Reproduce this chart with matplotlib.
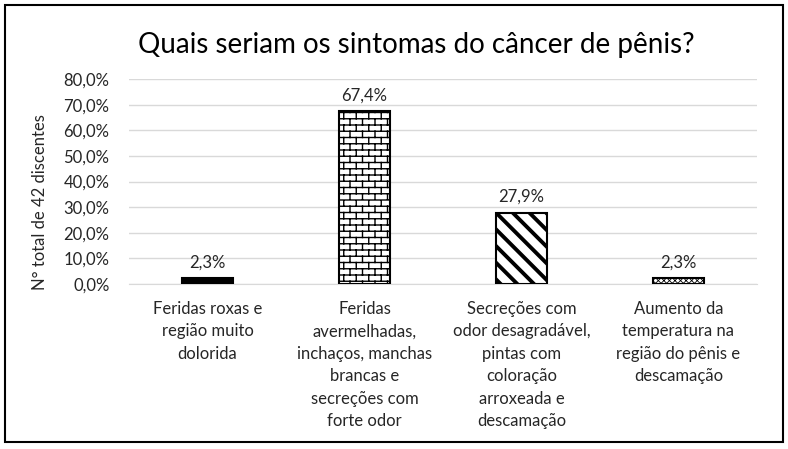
import numpy as np
import matplotlib
matplotlib.use('Agg')
import matplotlib.pyplot as plt
import matplotlib.hatch as mhatch
from matplotlib.patches import Rectangle
from matplotlib.path import Path
import warnings

warnings.filterwarnings('ignore')

# dados
categorias = ['Feridas roxas e\nregião muito\ndolorida',
              'Feridas\navermelhadas,\ninchaços, manchas\nbrancas e\nsecreções com\nforte odor',
              'Secreções com\nodor desagradável,\npintas com\ncoloração\narroxeada e\ndescamação',
              'Aumento da\ntemperatura na\nregião do pênis e\ndescamação']
valores = [2.3, 67.4, 27.9, 2.3]
rotulos = ['2,3%', '67,4%', '27,9%', '2,3%']
yticks = [0, 10, 20, 30, 40, 50, 60, 70, 80]


# padrão de tijolos (não existe no matplotlib)
class Tijolos(mhatch.HatchPatternBase):
    def __init__(self, hatch, density):
        self.n = 16 if 'b' in hatch else 0
        self.m = 8
        self.num_vertices = 2 * (self.n + 1) + 2 * self.n * self.m if self.n else 0

    def set_vertices_and_codes(self, vertices, codes):
        n, m = self.n, self.m
        k = 0
        for i in range(n + 1):
            vertices[k] = (0, i / n); vertices[k + 1] = (1, i / n)
            codes[k] = Path.MOVETO; codes[k + 1] = Path.LINETO
            k += 2
        for i in range(n):
            off = 0.5 * (i % 2)
            for j in range(m):
                x = (j + off) / m
                vertices[k] = (x, i / n); vertices[k + 1] = (x, (i + 1) / n)
                codes[k] = Path.MOVETO; codes[k + 1] = Path.LINETO
                k += 2

mhatch._hatch_types.append(Tijolos)

plt.rcParams['font.family'] = ['Lato', 'DejaVu Sans']

fig = plt.figure(figsize=(7.88, 4.49), dpi=100)
ax = fig.add_axes([129 / 788, 1 - 284 / 449, 628 / 788, 205 / 449])

estilos = [dict(color='black', hatch=None, hlw=1.0),
           dict(color='white', hatch='b', hlw=1.0),
           dict(color='white', hatch='\\\\', hlw=2.8),
           dict(color='white', hatch='xxxxxx', hlw=0.6)]

x = np.arange(len(valores))
for i, (v, e) in enumerate(zip(valores, estilos)):
    with plt.rc_context({'hatch.linewidth': e['hlw']}):
        b = ax.bar(x[i], v, width=0.33, color=e['color'], edgecolor='black',
                   linewidth=1.5, hatch=e['hatch'], zorder=3)
    for p in b:
        if hasattr(p, 'set_hatch_linewidth'):
            p.set_hatch_linewidth(e['hlw'])
    ax.text(x[i], v + 3.0, rotulos[i], ha='center', va='bottom', fontsize=12, color='#262626')

ax.set_xlim(-0.5, 3.5)
ax.set_ylim(0, 80)
ax.set_yticks(yticks)
ax.yaxis.set_major_formatter(plt.FuncFormatter(lambda v, p: ('%.1f%%' % v).replace('.', ',')))
ax.set_xticks(x)
ax.set_xticklabels(categorias, fontsize=12, color='#262626', linespacing=1.5)
ax.tick_params(axis='y', length=0, pad=14, labelsize=12, labelcolor='#262626')
ax.tick_params(axis='x', length=0, pad=12)
ax.grid(axis='y', color='#d9d9d9', linewidth=1, zorder=0)
for s in ['top', 'right', 'left']:
    ax.spines[s].set_visible(False)
ax.spines['bottom'].set_color('#d9d9d9')

fig.text(416 / 788, 1 - 45 / 449, 'Quais seriam os sintomas do câncer de pênis?',
         ha='center', va='center', fontsize=20, color='black')
fig.text(40 / 788, 1 - 202 / 449, 'N° total de 42 discentes', rotation=90,
         ha='center', va='center', fontsize=12, color='#262626')

fig.patches.append(Rectangle((5 / 788, 7 / 449), 778 / 788, 437 / 449, transform=fig.transFigure,
                             fill=False, edgecolor='black', linewidth=1.5))

plt.savefig('out.png', dpi=100)
